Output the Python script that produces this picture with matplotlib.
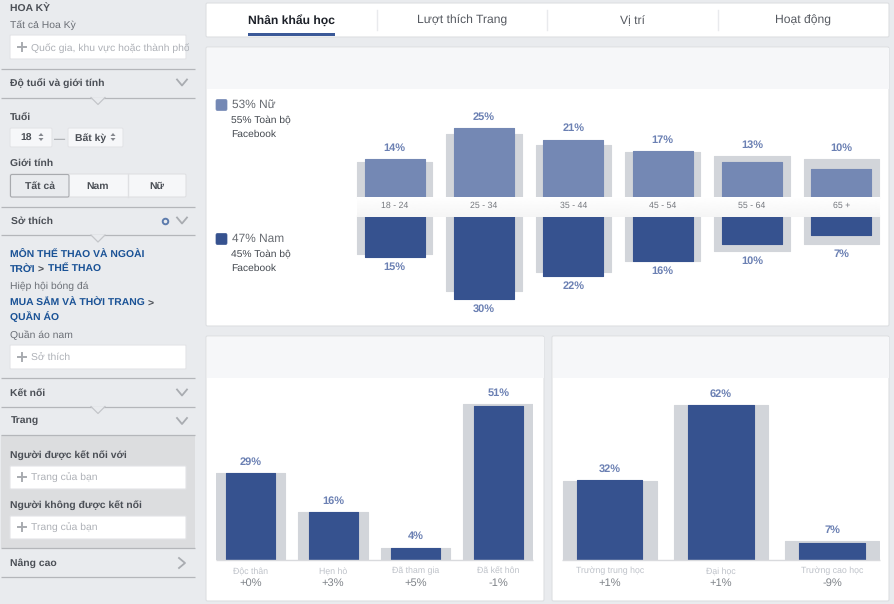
import numpy as np
import matplotlib
matplotlib.use("Agg")
import matplotlib.pyplot as plt
from matplotlib.patches import FancyBboxPatch, Rectangle, Polygon

plt.rcParams["font.family"] = ["Liberation Sans", "DejaVu Sans"]
plt.rcParams["text.hinting"] = "no_hinting"

W, H = 894, 604

# -----------------------------
# Data
# -----------------------------

tabs = ["Nhân khẩu học", "Lượt thích Trang", "Vị trí", "Hoạt động"]

age_groups = ["18 - 24", "25 - 34", "35 - 44", "45 - 54", "55 - 64", "65 +"]
female_pct = [14, 25, 21, 17, 13, 10.49]
female_bench = [13.2, 23, 19.1, 16.6, 15.2, 14]
male_pct = [15, 30, 21.8, 16.4, 10.49, 7.4]
male_bench = [14, 27.1, 20.5, 16.5, 12.9, 10.6]

relationship = ["Độc thân", "Hẹn hò", "Đã tham gia", "Đã kết hôn"]
relationship_pct = [29, 16, 4, 51]
relationship_bench = [28.8, 16, 4.2, 51.8]
relationship_delta = ["+0%", "+3%", "+5%", "-1%"]

education = ["Trường trung học", "Đại học", "Trường cao học"]
education_pct = [32, 62, 7]
education_bench = [31.5, 61.7, 7.8]
education_delta = ["+1%", "+1%", "-9%"]

# -----------------------------
# Colours
# -----------------------------

BG = "#e9ebee"
CARD_EDGE = "#dddfe2"
FEMALE = "#7488b4"
MALE = "#36528f"
BENCH = "#d2d5da"
VALUE_TEXT = "#6b80b3"
DARK = "#4b4f56"
GREY_TEXT = "#7f8389"
LINK = "#1a5296"
LINE = "#b4b6ba"
HINT = "#aeb1b7"
SIDE = 7.5

fig = plt.figure(figsize=(W / 100, H / 100), dpi=100, facecolor=BG)


def px_axes(x0, y0, x1, y1, zorder=1):
    """Axes placed by pixel box, y counted from the top of the image."""
    ax = fig.add_axes([x0 / W, 1 - y1 / H, (x1 - x0) / W, (y1 - y0) / H], zorder=zorder)
    ax.axis("off")
    ax.patch.set_alpha(0)
    return ax


page = px_axes(0, 0, W, H, zorder=0)
page.set_xlim(0, W)
page.set_ylim(H, 0)


def box(x0, y0, x1, y1, fc="white", ec=CARD_EDGE, lw=0.8, z=1, r=1.5):
    page.add_patch(FancyBboxPatch((x0, y0), x1 - x0, y1 - y0,
                                  boxstyle=f"round,pad=0,rounding_size={r}",
                                  fc=fc, ec=ec, lw=lw, zorder=z))


def label(x, y, s, size=SIDE, color=DARK, weight="normal", ha="left", **kw):
    # y is the middle of the capitals, so accents do not shift the line
    return page.text(x, y + size * 0.5, s, fontsize=size, color=color, fontweight=weight,
                     ha=ha, va="baseline", zorder=5, **kw)


# -----------------------------
# Cards and tabs
# -----------------------------

box(206, 3, 889, 37)
for i, (name, cx) in enumerate(zip(tabs, [291, 462, 632, 803])):
    label(cx, 19.5, name, size=8.75, color="#1d2129" if i == 0 else "#555960",
          weight="bold" if i == 0 else "normal", ha="center")
for sx in [377, 547, 718]:
    page.plot([sx, sx], [10, 30], color="#e9eaed", lw=1, zorder=3)
page.add_patch(Rectangle((247.5, 33), 87, 3, fc="#3b5998", zorder=3))

for x0, y0, x1, y1, head in [(206, 47, 889, 326, 88), (206, 336, 544, 601, 377),
                             (552, 336, 889, 601, 377)]:
    box(x0, y0, x1, y1)
    page.add_patch(Rectangle((x0 + 0.5, y0 + 0.5), x1 - x0 - 1, head - y0,
                             fc="#f6f7f9", ec="none", zorder=2))

# -----------------------------
# Sidebar
# -----------------------------


def rule(y, notch=False):
    page.plot([1, 195], [y, y], color=LINE, lw=0.9, zorder=3, solid_capstyle="butt")
    if notch:
        page.add_patch(Polygon([(91, y), (98, y + 7), (105, y)], closed=True,
                               fc=BG, ec="none", zorder=3))
        page.plot([91, 98, 105], [y, y + 7, y], color="#c4c6ca", lw=0.9, zorder=3)


def chevron(y, x=182, right=False):
    if right:
        page.plot([x - 3, x + 3, x - 3], [y - 5, y, y + 5], color="#a9acb1", lw=1.3, zorder=4)
    else:
        page.plot([x - 5, x, x + 5], [y - 3, y + 3, y - 3], color="#a9acb1", lw=1.3, zorder=4)


def input_box(y0, y1, hint):
    box(10, y0, 186, y1, ec="#e3e4e7", r=1)
    mid = (y0 + y1) / 2
    page.plot([18, 26], [mid - 0.5, mid - 0.5], color="#a8abb0", lw=1.4, zorder=4)
    page.plot([22, 22], [mid - 4.5, mid + 3.5], color="#a8abb0", lw=1.4, zorder=4)
    t = label(31, mid, hint, color=HINT)
    t.set_clip_on(True)
    t.set_clip_path(Rectangle((0, 0), 189, H, transform=page.transData))


def spinner(x, y):
    page.add_patch(Polygon([(x - 2.5, y - 1), (x, y - 4), (x + 2.5, y - 1)], fc="#85888e", zorder=5))
    page.add_patch(Polygon([(x - 2.5, y + 1), (x, y + 4), (x + 2.5, y + 1)], fc="#85888e", zorder=5))


page.add_patch(Rectangle((1, 435), 194, 113, fc="#dcdddf", ec="none", zorder=1))

label(10, 7.5, "HOA KỲ", weight="bold")
label(10, 24.5, "Tất cả Hoa Kỳ", color="#6b6f76")
input_box(35, 59, "Quốc gia, khu vực hoặc thành phố")
rule(68.5)
label(10, 82, "Độ tuổi và giới tính", weight="bold")
chevron(82.5)
rule(97.5, notch=True)
label(10, 116, "Tuổi", weight="bold")
box(10, 128, 52, 147, fc="#f6f7f9", ec="#e3e4e7")
label(26.5, 137.5, "18", weight="bold", ha="center")
spinner(41, 137)
label(60, 137.5, "—", size=8, color="#8a8d91", ha="center")
box(68, 128, 123, 147, fc="#f6f7f9", ec="#e3e4e7")
label(91, 137.5, "Bất kỳ", weight="bold", ha="center")
spinner(113, 137)
label(10, 162, "Giới tính", weight="bold")
box(10, 174, 186, 197, fc="#f6f7f9", ec="#dfe0e3")
box(10.5, 174.5, 69, 197, fc="#e9ebee", ec="#a8aaae", lw=0.8, z=2)
page.plot([127.5, 127.5], [174, 197], color="#dfe0e3", lw=1, zorder=3)
label(39.5, 185.5, "Tất cả", weight="bold", ha="center")
label(98, 185.5, "Nam", weight="bold", ha="center")
label(157, 185.5, "Nữ", weight="bold", ha="center")
rule(206.5)
label(11, 220, "Sở thích", weight="bold")
page.plot([165], [220.5], "o", ms=4, mfc="none", mec="#5d7cad", mew=1.4, zorder=4)
chevron(220.5)
rule(235, notch=True)
label(10, 254, "MÔN THỂ THAO VÀ NGOÀI", weight="bold", color=LINK)
label(10, 268, "TRỜI", weight="bold", color=LINK)
label(38, 268, ">", weight="bold")
label(48, 268, "THỂ THAO", weight="bold", color=LINK)
label(10, 285, "Hiệp hội bóng đá", color="#6b6f76")
label(10, 302, "MUA SẮM VÀ THỜI TRANG", weight="bold", color=LINK)
label(148, 302, ">", weight="bold")
label(10, 316, "QUẦN ÁO", weight="bold", color=LINK)
label(10, 334, "Quần áo nam", color="#6b6f76")
input_box(345, 369, "Sở thích")
rule(378)
label(10, 392, "Kết nối", weight="bold")
chevron(392.5)
rule(406.5, notch=True)
label(11, 420, "Trang", weight="bold")
chevron(421)
rule(435)
label(10, 454, "Người được kết nối với", weight="bold")
input_box(466, 489, "Trang của bạn")
label(10, 504, "Người không được kết nối", weight="bold")
input_box(516, 539, "Trang của bạn")
rule(548)
label(10, 562.5, "Nâng cao", weight="bold")
chevron(563, right=True)
rule(577)

# -----------------------------
# Legend of the gender chart
# -----------------------------

for y0, color, head, sub in [(99.5, FEMALE, "53% Nữ", "55% Toàn bộ"),
                             (233.5, MALE, "47% Nam", "45% Toàn bộ")]:
    box(216, y0, 227, y0 + 11, fc=color, ec=color, lw=0.5, r=1.5, z=3)
    label(232, y0 + 4, head, size=8.6, color="#666a70")
    label(231, y0 + 19.5, sub, size=7.4, color="#444950")
    label(231, y0 + 33.5, "Facebook", size=7.4, color="#444950")

# -----------------------------
# Gender by age chart
# -----------------------------

AGE_STEP = 89.33
AGE_X0, AGE_X1 = 350, 886
age_xlim = ((AGE_X0 - 394.7) / AGE_STEP, (AGE_X1 - 394.7) / AGE_STEP)
xs = np.arange(len(age_groups))


def bars(ax, x, values, bench, color, w_value, w_bench):
    ax.bar(x, bench, width=w_bench, color=BENCH, edgecolor=BENCH, lw=0.8, joinstyle="round")
    ax.bar(x, values, width=w_value, color=color, edgecolor=color, lw=0.8, joinstyle="round")


top_ax = px_axes(AGE_X0, 100, AGE_X1, 198.8)
top_ax.set_xlim(*age_xlim)
top_ax.set_ylim(0, 98.8 / 2.82)
bars(top_ax, xs, female_pct, female_bench, FEMALE, 60 / AGE_STEP, 75.5 / AGE_STEP)

bottom_ax = px_axes(AGE_X0, 214.7, AGE_X1, 312)
bottom_ax.set_xlim(*age_xlim)
bottom_ax.set_ylim(97.3 / 2.8, 0)
bars(bottom_ax, xs, male_pct, male_bench, MALE, 60 / AGE_STEP, 75.5 / AGE_STEP)

for i in xs:
    top_ax.annotate(f"{round(female_pct[i])}%", (i, max(female_pct[i], female_bench[i])),
                    xytext=(0, 8), textcoords="offset points", ha="center", va="center",
                    fontsize=7.9, fontweight="bold", color=VALUE_TEXT, annotation_clip=False)
    bottom_ax.annotate(f"{round(male_pct[i])}%", (i, max(male_pct[i], male_bench[i])),
                       xytext=(0, -7.2), textcoords="offset points", ha="center", va="center",
                       fontsize=7.9, fontweight="bold", color=VALUE_TEXT, annotation_clip=False)

band_ax = px_axes(AGE_X0, 196.7, AGE_X1, 217.3, zorder=2)
band_ax.imshow(np.linspace(0.96, 1.0, 32).reshape(-1, 1), cmap="gray", vmin=0, vmax=1,
               extent=((356.7 - 394.7) / AGE_STEP, (879.3 - 394.7) / AGE_STEP, 0, 1),
               aspect="auto", origin="lower")
band_ax.set_xlim(*age_xlim)
band_ax.set_ylim(0, 1)
for i, name in zip(xs, age_groups):
    band_ax.text(i, 0.56, name, fontsize=6.3, color="#75787e", ha="center", va="center")

# -----------------------------
# Bottom charts
# -----------------------------


def lower_chart(x0, x1, first_cx, step, scale, names, values, bench, deltas, w_value, w_bench):
    ax = px_axes(x0, 395, x1, 560.3)
    ax.set_xlim((x0 - first_cx) / step, (x1 - first_cx) / step)
    ax.set_ylim(0, 165.3 / scale)
    pos = np.arange(len(names))
    bars(ax, pos, values, bench, MALE, w_value / step, w_bench / step)
    ax.plot([(x0 - first_cx) / step, (x1 - first_cx) / step], [0, 0], color="#d9dadd", lw=1,
            solid_capstyle="butt", clip_on=False)
    for i in pos:
        ax.annotate(f"{values[i]}%", (i, max(values[i], bench[i])), xytext=(0, 8),
                    textcoords="offset points", ha="center", va="center", fontsize=7.9,
                    fontweight="bold", color=VALUE_TEXT, annotation_clip=False)
        ax.annotate(names[i], (i, 0), xytext=(0, -9.5), textcoords="offset points",
                    ha="center", va="baseline", fontsize=6.3, color="#bec2c9")
        ax.annotate(deltas[i], (i, 0), xytext=(0, -18.7), textcoords="offset points",
                    ha="center", va="baseline", fontsize=8, color=GREY_TEXT)


lower_chart(215.7, 533, 250.7, 82.5, 3.02, relationship, relationship_pct, relationship_bench,
            relationship_delta, 49, 69.5)
lower_chart(562, 880, 609.7, 111.2, 2.51, education, education_pct, education_bench,
            education_delta, 65.5, 94)

fig.savefig("out.png", dpi=100, facecolor=BG)
plt.close(fig)
